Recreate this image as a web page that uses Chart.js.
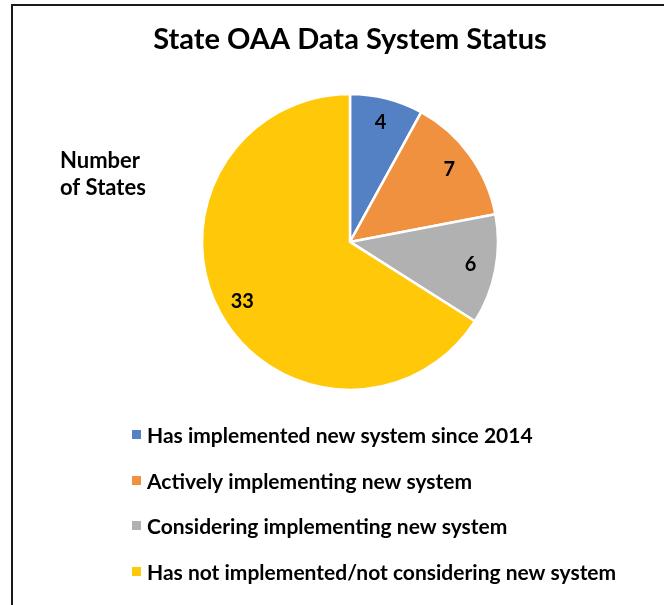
<!DOCTYPE html>
<html>
<head>
<meta charset="utf-8">
<script src="https://cdn.jsdelivr.net/npm/chart.js@4.4.1/dist/chart.umd.min.js"></script>
<style>
  html, body { margin: 0; padding: 0; background: #fff; }
  #wrap { width: 664px; height: 605px; position: relative; }
</style>
</head>
<body>
<div id="wrap"><canvas id="c" width="664" height="605"></canvas></div>
<script>
const chartTitle = 'State OAA Data System Status';
const sideLabel = ['Number', 'of States'];
const categories = [
  'Has implemented new system since 2014',
  'Actively implementing new system',
  'Considering implementing new system',
  'Has not implemented/not considering new system'
];
const stateCounts = [4, 7, 6, 33];
const sliceColors = ['#5381C3', '#F0913F', '#B1B1B1', '#FFC90A'];

const FONT = 'Lato, "Open Sans", sans-serif';

const extras = {
  id: 'extras',
  beforeDraw(chart) {
    const ctx = chart.ctx;
    ctx.save();
    ctx.strokeStyle = '#1a1a1a';
    ctx.lineWidth = 2;
    ctx.beginPath();
    ctx.moveTo(12, 605);
    ctx.lineTo(12, 5);
    ctx.lineTo(664, 5);
    ctx.stroke();
    ctx.restore();
  },
  afterDraw(chart) {
    const ctx = chart.ctx;
    ctx.save();
    // side label
    ctx.fillStyle = '#000';
    ctx.font = 'bold 22px ' + FONT;
    ctx.textAlign = 'left';
    ctx.textBaseline = 'alphabetic';
    ctx.fillText(sideLabel[0], 60, 168);
    ctx.fillText(sideLabel[1], 60, 195);

    // data labels
    const meta = chart.getDatasetMeta(0);
    ctx.font = 'bold 20px ' + FONT;
    ctx.textAlign = 'center';
    ctx.textBaseline = 'middle';
    meta.data.forEach((arc, i) => {
      const p = arc.getProps(['x', 'y', 'startAngle', 'endAngle', 'outerRadius']);
      const mid = (p.startAngle + p.endAngle) / 2;
      const r = p.outerRadius * 0.83;
      ctx.fillText(String(chart.data.datasets[0].data[i]), p.x + Math.cos(mid) * r, p.y + Math.sin(mid) * r);
    });

    // legend
    const rowsY = [436, 482, 527, 573];
    ctx.font = 'bold 21px ' + FONT;
    ctx.textAlign = 'left';
    ctx.textBaseline = 'middle';
    chart.data.labels.forEach((lab, i) => {
      ctx.fillStyle = chart.data.datasets[0].backgroundColor[i];
      ctx.fillRect(132, rowsY[i] - 6, 9, 9);
      ctx.fillStyle = '#000';
      ctx.fillText(lab, 147, rowsY[i]);
    });
    ctx.restore();
  }
};

new Chart(document.getElementById('c'), {
  type: 'pie',
  data: {
    labels: categories,
    datasets: [{
      data: stateCounts,
      backgroundColor: sliceColors,
      borderColor: '#ffffff',
      borderWidth: 2.5,
      hoverOffset: 0
    }]
  },
  options: {
    responsive: false,
    animation: false,
    events: [],
    radius: 148,
    layout: { padding: { left: 36, right: 0, top: 0, bottom: 215 } },
    plugins: {
      legend: { display: false },
      tooltip: { enabled: false },
      title: {
        display: true,
        text: chartTitle,
        color: '#000',
        font: { family: FONT, size: 29, weight: 'bold', lineHeight: 1.2 },
        padding: { top: 22, bottom: 37 }
      }
    }
  },
  plugins: [extras]
});
</script>
</body>
</html>
